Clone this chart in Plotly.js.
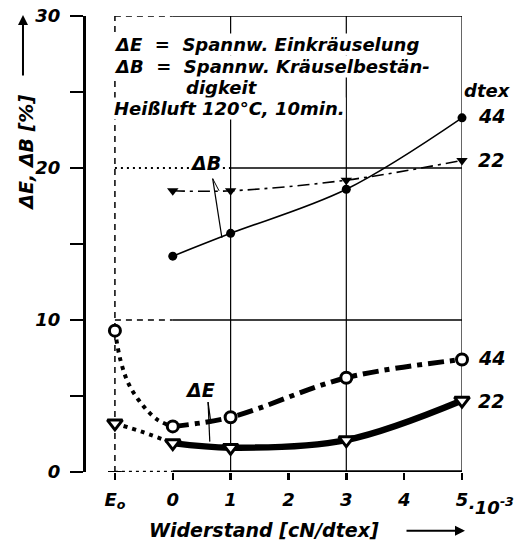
<!DOCTYPE html>
<html>
<head>
<meta charset="utf-8">
<script src="https://cdn.plot.ly/plotly-3.0.1.min.js"></script>
<style>html,body{margin:0;padding:0;background:#fff;}#chart{width:524px;height:540px;}</style>
</head>
<body>
<div id="chart"></div>
<script>
// ---- data ----
const xPoints = [0, 1, 3, 5];               // Widerstand [10^-3 cN/dtex]
const dB44 = [14.2, 15.7, 18.6, 23.3];      // ΔB, 44 dtex
const dB22 = [18.5, 18.5, 19.2, 20.5];      // ΔB, 22 dtex
const dE44 = [3.0, 3.6, 6.2, 7.4];          // ΔE, 44 dtex
const dE22 = [1.9, 1.6, 2.1, 4.7];          // ΔE, 22 dtex
const e0X = -1;                              // position of E0 on the x axis
const dE44_E0 = 9.3;
const dE22_E0 = 3.2;
// dotted transition curves E0 -> 0
const trans44X = [-1, -0.9, -0.75, -0.5, -0.25, 0];
const trans44Y = [9.3, 7.3, 5.7, 4.3, 3.4, 3.0];
const trans22X = [-1, -0.5, 0];
const trans22Y = [3.2, 2.6, 1.9];
const xTickVals = [-1, 0, 1, 2, 3, 4, 5];
const xTickText = ['E<sub>o</sub>', '0', '1', '2', '3', '4', '5'];
const yTickVals = [0, 5, 10, 15, 20, 25, 30];
const yTickText = ['0', '', '10', '', '20', '', '30'];

const FONT = 'DejaVu Sans, Liberation Sans, sans-serif';
const BI = {family: FONT, size: 19, color: '#000', weight: 'bold', style: 'italic'};
const BIt = Object.assign({}, BI, {size: 18});
const BIs = Object.assign({}, BI, {size: 18});

const traces = [
  {x: trans44X, y: trans44Y, mode: 'lines', line: {color: '#000', width: 4, dash: '4px,5px', shape: 'spline'}, cliponaxis: false},
  {x: trans22X, y: trans22Y, mode: 'lines', line: {color: '#000', width: 4, dash: '4px,5px', shape: 'spline'}, cliponaxis: false},
  {x: xPoints, y: dB44, mode: 'lines+markers', line: {color: '#000', width: 1.6, shape: 'spline'},
   marker: {symbol: 'circle', size: 9, color: '#000'}, cliponaxis: false},
  {x: xPoints, y: dB22, mode: 'lines+markers', line: {color: '#000', width: 1.6, dash: '12px,5px,3px,5px', shape: 'spline'},
   marker: {symbol: 'triangle-down', size: 10, color: '#000'}, cliponaxis: false},
  {x: xPoints, y: dE44, mode: 'lines+markers', line: {color: '#000', width: 5, dash: '16px,6px,5px,6px', shape: 'spline'},
   marker: {symbol: 'circle', size: 11, color: '#fff', line: {color: '#000', width: 3}}, cliponaxis: false},
  {x: xPoints, y: dE22, mode: 'lines+markers', line: {color: '#000', width: 6.5, shape: 'spline'},
   marker: {symbol: 'triangle-down', size: 13, color: '#fff', line: {color: '#000', width: 3}}, cliponaxis: false},
  {x: [e0X], y: [dE44_E0], mode: 'markers', marker: {symbol: 'circle', size: 11, color: '#fff', line: {color: '#000', width: 3}}, cliponaxis: false},
  {x: [e0X], y: [dE22_E0], mode: 'markers', marker: {symbol: 'triangle-down', size: 13, color: '#fff', line: {color: '#000', width: 3}}, cliponaxis: false}
];

function seg(x0, y0, x1, y1, width, dash) {
  return {type: 'line', xref: 'x', yref: 'y', x0: x0, y0: y0, x1: x1, y1: y1, layer: 'below',
          line: {color: '#000', width: width, dash: dash || 'solid'}};
}
const shapes = [
  seg(-1, 0, -1, 30, 1.5, '6px,5px'),
  seg(1, 0, 1, 30, 1.2), seg(3, 0, 3, 30, 1.2), seg(5, 0, 5, 30, 1.2),
  seg(-1, 30, 0, 30, 1.5, '6px,5px'), seg(0, 30, 5, 30, 1.5),
  seg(-1, 20, 1, 20, 2, '2px,4px'), seg(1, 20, 5, 20, 1.5),
  seg(-1, 10, 0, 10, 1.5, '6px,5px'), seg(0, 10, 5, 10, 1.5),
  seg(-1, 0, 0, 0, 2.5, '3px,4px'), seg(0, 0, 5, 0, 3.5),
  seg(-1.12, 0, -0.88, 0, 2),
  // leader lines
  seg(0.69, 19.3, 0.8, 18.5, 1), seg(0.69, 19.3, 0.85, 15.4, 1.2),
  seg(0.61, 4.6, 0.66, 3.2, 1.2), seg(0.61, 4.6, 0.64, 2.0, 1.2)
];

function ann(text, x, y, opts) {
  return Object.assign({text: text, x: x, y: y, xref: 'x', yref: 'y', showarrow: false, font: BI,
                        xanchor: 'center', yanchor: 'middle'}, opts || {});
}
const annotations = [
  ann('ΔE  =  Spannw. Einkräuselung', -1.04, 28.1, {xanchor: 'left', bgcolor: '#fff', borderpad: 0, font: BIs}),
  ann('ΔB  =  Spannw. Kräuselbestän-', -1.04, 26.65, {xanchor: 'left', bgcolor: '#fff', borderpad: 0, font: BIs}),
  ann('digkeit', 0.21, 25.3, {xanchor: 'left', bgcolor: '#fff', borderpad: 0, font: BIs}),
  ann('Heißluft 120°C, 10min.', -1.04, 23.9, {xanchor: 'left', bgcolor: '#fff', borderpad: 0, font: BIs}),
  ann('dtex', 5, 25.1, {xanchor: 'left', xshift: 1, bgcolor: '#fff', borderpad: 0, font: BIs}),
  ann('44', 5, 23.4, {xanchor: 'left', xshift: 14}),
  ann('22', 5, 20.5, {xanchor: 'left', xshift: 14}),
  ann('44', 5, 7.5, {xanchor: 'left', xshift: 14}),
  ann('22', 5, 4.7, {xanchor: 'left', xshift: 14}),
  ann('ΔB', 0.57, 20.3, {bgcolor: '#fff', borderpad: 0}),
  ann('ΔE', 0.47, 5.4, {}),
  {text: '·10<sup>-3</sup>', x: 5, y: -0.066, xref: 'x', yref: 'paper', xanchor: 'left', yanchor: 'middle', xshift: 4, yshift: -4,
   showarrow: false, font: BIt},
  {text: 'Widerstand [cN/dtex]', x: 0.473, y: -0.127, xref: 'paper', yref: 'paper', xanchor: 'center', yanchor: 'middle',
   showarrow: false, font: BI},
  {text: '', x: 1.008, y: -0.129, xref: 'paper', yref: 'paper', showarrow: true, ax: -60, ay: 0,
   arrowhead: 2, arrowsize: 1, arrowwidth: 2, arrowcolor: '#000'},
  {text: 'ΔE, ΔB [%]', x: -0.16, y: 0.70, xref: 'paper', yref: 'paper', xanchor: 'center', yanchor: 'middle',
   textangle: -90, showarrow: false, font: BI},
  {text: '', x: -0.1676, y: 1.002, xref: 'paper', yref: 'paper', showarrow: true, ax: 0, ay: 62,
   arrowhead: 2, arrowsize: 1, arrowwidth: 2, arrowcolor: '#000'}
];

const layout = {
  width: 524, height: 540,
  margin: {l: 86, r: 62, t: 16, b: 68, autoexpand: false},
  paper_bgcolor: '#fff', plot_bgcolor: '#fff',
  showlegend: false,
  font: BI,
  xaxis: {range: [-1.5, 5], showgrid: false, zeroline: false, showline: false, automargin: false,
          tickmode: 'array', tickvals: xTickVals, ticktext: xTickText,
          ticks: 'outside', ticklen: 7, tickwidth: 2.5, tickcolor: '#000',
          tickfont: BIt, ticklabelstandoff: 4},
  yaxis: {range: [0, 30], showgrid: false, zeroline: false, showline: true, linewidth: 3, linecolor: '#000',
          automargin: false,
          tickmode: 'array', tickvals: yTickVals, ticktext: yTickText,
          ticks: 'outside', ticklen: 13, tickwidth: 2.5, tickcolor: '#000',
          tickfont: BIt, ticklabelstandoff: 6},
  shapes: shapes,
  annotations: annotations
};

Plotly.newPlot('chart', traces, layout, {displayModeBar: false, staticPlot: true});
</script>
</body>
</html>
